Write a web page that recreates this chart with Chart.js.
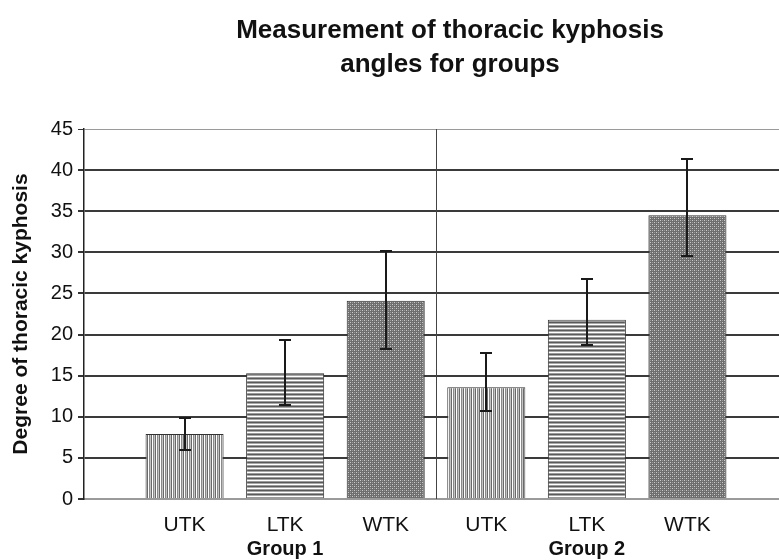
<!DOCTYPE html>
<html>
<head>
<meta charset="utf-8">
<script src="https://cdn.jsdelivr.net/npm/chart.js@4.4.1/dist/chart.umd.min.js"></script>
<style>
  html, body { margin:0; padding:0; background:#fff; }
  #wrap { width:779px; height:560px; overflow:hidden; position:relative; }
  canvas { display:block; }
</style>
</head>
<body>
<div id="wrap"><canvas id="chart" width="800" height="560"></canvas></div>
<script>
const FONT = '"Liberation Sans", Arial, sans-serif';
const titleLines = ['Measurement of thoracic kyphosis', 'angles for groups'];
const yTitle = 'Degree of thoracic kyphosis';
const categories = ['UTK', 'LTK', 'WTK', 'UTK', 'LTK', 'WTK'];
const groups = ['Group 1', 'Group 2'];
const means   = [7.9, 15.3, 24.1, 13.6, 21.8, 34.5];
const errHigh = [9.9, 19.3, 30.2, 17.8, 26.8, 41.4];
const errLow  = [5.9, 11.4, 18.2, 10.7, 18.7, 29.6];
const yTicks = [0, 5, 10, 15, 20, 25, 30, 35, 40, 45];

// one empty slot at each end so bars sit at 1..6 of 0..7
const labels = ['', ...categories, ''];
const values = [null, ...means, null];

function tile(w, h, draw){
  const c = document.createElement('canvas'); c.width = w; c.height = h;
  const g = c.getContext('2d'); draw(g);
  return document.getElementById('chart').getContext('2d').createPattern(c, 'repeat');
}
const px = (g, x, y, col) => { g.fillStyle = col; g.fillRect(x, y, 1, 1); };
const vStripes = tile(4, 1, g => { g.fillStyle='#fff'; g.fillRect(0,0,4,1); px(g,1,0,'#8a8a8a'); px(g,2,0,'#c4c4c4'); px(g,3,0,'#6a6a6a'); });
const hStripes = tile(1, 4, g => { g.fillStyle='#fff'; g.fillRect(0,0,1,4); px(g,0,1,'#9a9a9a'); px(g,0,2,'#5a5a5a'); px(g,0,3,'#a8a8a8'); });
const dots = tile(4, 4, g => {
  g.fillStyle='#6e6e6e'; g.fillRect(0,0,4,4);
  px(g,0,0,'#cccccc'); px(g,2,2,'#cccccc'); px(g,2,0,'#9a9a9a'); px(g,0,2,'#9a9a9a');
});
const fills = [null, vStripes, hStripes, dots, vStripes, hStripes, dots, null];

const extras = {
  id: 'extras',
  beforeDatasetsDraw(chart){
    const { ctx, chartArea, scales: { x } } = chart;
    const dx = Math.round(x.getPixelForValue(3.5)) + 0.5;
    ctx.save();
    ctx.strokeStyle = '#444'; ctx.lineWidth = 1;
    ctx.beginPath(); ctx.moveTo(dx, chartArea.top); ctx.lineTo(dx, chartArea.bottom); ctx.stroke();
    ctx.restore();
  },
  afterDatasetsDraw(chart){
    const { ctx, scales: { y } } = chart;
    const meta = chart.getDatasetMeta(0);
    ctx.save();
    ctx.strokeStyle = '#1a1a1a'; ctx.lineWidth = 2;
    means.forEach((m, i) => {
      const bar = meta.data[i + 1];
      const cx = Math.round(bar.x);
      const yt = Math.round(y.getPixelForValue(errHigh[i]));
      const yb = Math.round(y.getPixelForValue(errLow[i]));
      ctx.beginPath();
      ctx.moveTo(cx, yt); ctx.lineTo(cx, yb);
      ctx.moveTo(cx - 6, yt); ctx.lineTo(cx + 6, yt);
      ctx.moveTo(cx - 6, yb); ctx.lineTo(cx + 6, yb);
      ctx.stroke();
    });
    ctx.restore();
  },
  afterDraw(chart){
    const { ctx, scales: { x } } = chart;
    ctx.save();
    ctx.fillStyle = '#111'; ctx.textAlign = 'center'; ctx.textBaseline = 'middle';
    ctx.font = 'bold 26px ' + FONT;
    ctx.fillText(titleLines[0], 450, 31);
    ctx.fillText(titleLines[1], 450, 65);
    ctx.font = 'bold 20px ' + FONT;
    groups.forEach((gname, i) => ctx.fillText(gname, x.getPixelForValue(2 + i * 3), 549));
    ctx.restore();
  }
};

new Chart(document.getElementById('chart'), {
  type: 'bar',
  data: {
    labels,
    datasets: [{
      data: values,
      backgroundColor: fills,
      borderColor: '#333',
      borderWidth: 1,
      barPercentage: 0.776,
      categoryPercentage: 1
    }]
  },
  options: {
    responsive: false,
    animation: false,
    layout: { padding: { left: 0, right: 12, top: 129, bottom: 0 } },
    plugins: { legend: { display: false }, tooltip: { enabled: false } },
    scales: {
      x: {
        type: 'category',
        offset: false,
        grid: { display: false },
        border: { display: true, color: '#9a9a9a', width: 2 },
        ticks: { autoSkip: false, maxRotation: 0, padding: 6, color: '#111', font: { family: FONT, size: 21 } },
        afterFit(s){ s.height = 61; }
      },
      y: {
        min: 0, max: 45,
        afterBuildTicks(s){ s.ticks = yTicks.map(v => ({ value: v })); },
        ticks: { padding: 5, color: '#111', font: { family: FONT, size: 20 } },
        grid: {
          color: c => (c.tick.value === 45 ? '#9a9a9a' : c.tick.value === 0 ? '#9a9a9a' : '#3a3a3a'),
          lineWidth: c => (c.tick.value === 45 ? 1 : 2),
          tickColor: '#333',
          tickLength: 6
        },
        border: { color: '#222', width: 1.5 },
        title: { display: true, text: yTitle, color: '#111', font: { family: FONT, size: 21, weight: 'bold' }, padding: { top: 9, bottom: 0 } },
        afterFit(s){ s.width = 84; }
      }
    }
  },
  plugins: [extras]
});
</script>
</body>
</html>
